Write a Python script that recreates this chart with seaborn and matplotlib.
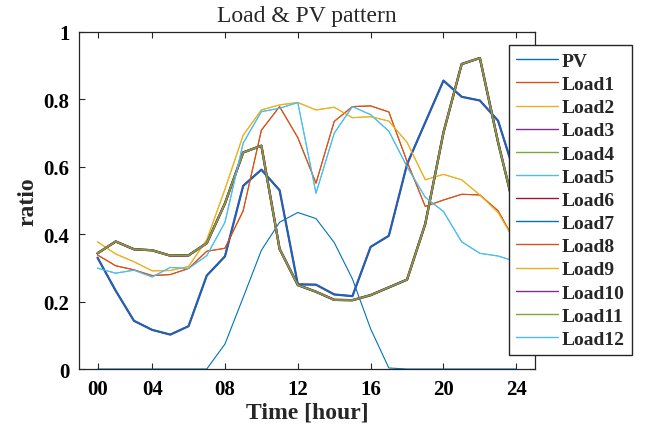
import matplotlib
matplotlib.use("Agg")
import matplotlib.pyplot as plt
import seaborn as sns
import pandas as pd

# ---------------- data ----------------
hours = list(range(24))
tick_pos = [0, 3, 7, 11, 15, 19, 23]
tick_labels = ["00", "04", "08", "12", "16", "20", "24"]
y_ticks = [0, 0.2, 0.4, 0.6, 0.8, 1.0]
y_tick_labels = ["0", "0.2", "0.4", "0.6", "0.8", "1"]

pv = [0, 0, 0, 0, 0, 0, 0, 0.074, 0.212, 0.352, 0.435, 0.464,
      0.446, 0.375, 0.267, 0.119, 0.003, 0, 0, 0, 0, 0, 0, 0]
pattern_a = [0.338, 0.306, 0.294, 0.277, 0.280, 0.298, 0.349, 0.358, 0.469, 0.708, 0.778, 0.686,
             0.551, 0.734, 0.778, 0.780, 0.762, 0.615, 0.482, 0.501, 0.518, 0.516, 0.469, 0.372]
pattern_b = [0.377, 0.341, 0.318, 0.291, 0.292, 0.304, 0.383, 0.533, 0.693, 0.768, 0.783, 0.790,
             0.768, 0.776, 0.745, 0.748, 0.735, 0.672, 0.561, 0.577, 0.561, 0.516, 0.464, 0.372]
pattern_c = [0.330, 0.232, 0.143, 0.116, 0.102, 0.127, 0.277, 0.334, 0.543, 0.591, 0.530, 0.251,
             0.250, 0.221, 0.216, 0.362, 0.395, 0.607, 0.731, 0.855, 0.807, 0.796, 0.736, 0.565]
pattern_d = [0.343, 0.378, 0.355, 0.352, 0.336, 0.337, 0.373, 0.491, 0.642, 0.662, 0.356, 0.249,
             0.229, 0.205, 0.204, 0.219, 0.242, 0.265, 0.430, 0.701, 0.904, 0.922, 0.672, 0.450]
pattern_e = [0.299, 0.284, 0.293, 0.273, 0.301, 0.298, 0.336, 0.435, 0.670, 0.763, 0.773, 0.790,
             0.521, 0.699, 0.778, 0.754, 0.705, 0.600, 0.509, 0.467, 0.377, 0.343, 0.335, 0.318]

series_names = ["PV", "Load1", "Load2", "Load3", "Load4", "Load5", "Load6",
                "Load7", "Load8", "Load9", "Load10", "Load11", "Load12"]
series_values = [pv, pattern_a, pattern_b, pattern_c, pattern_d, pattern_e, pattern_d,
                 pattern_c, pattern_a, pattern_b, pattern_d, pattern_d, pattern_e]

matlab_colors = ["#0072BD", "#D95319", "#EDB120", "#7E2F8E", "#77AC30", "#4DBEEE", "#A2142F"]
series_colors = [matlab_colors[i % 7] for i in range(13)]
# lines that are later covered by an identical curve look wider in the reference
series_widths = [0.8, 0.8, 0.8, 1.6, 1.6, 0.8, 1.6, 1.1, 0.8, 0.8, 1.6, 1.1, 0.8]

# ---------------- style ----------------
sns.set_theme(style="ticks")
plt.rcParams["font.family"] = ["Liberation Serif", "DejaVu Serif"]
plt.rcParams["axes.edgecolor"] = "#262626"
plt.rcParams["axes.linewidth"] = 0.9

fig = plt.figure(figsize=(6.47, 4.39), dpi=100)
ax = fig.add_axes([79.3 / 647, 1 - 370 / 439, (534.5 - 79.3) / 647, (370 - 32.7) / 439])

for name, vals, col, lw in zip(series_names, series_values, series_colors, series_widths):
    df = pd.DataFrame({"hour": hours, "ratio": vals})
    sns.lineplot(data=df, x="hour", y="ratio", color=col, linewidth=lw, label=name, ax=ax)

ax.set_xlim(-1, 24)
ax.set_ylim(0, 1)
ax.set_xticks(tick_pos)
ax.set_xticklabels(tick_labels)
ax.set_yticks(y_ticks)
ax.set_yticklabels(y_tick_labels)
for lab in ax.get_xticklabels() + ax.get_yticklabels():
    lab.set_fontweight("bold")
    lab.set_fontsize(15)
ax.tick_params(direction="in", length=4, width=0.8, top=True, right=True,
               colors="#262626", labelcolor="black", pad=7)
for s in ax.spines.values():
    s.set_visible(True)
    s.set_color("#262626")

ax.set_xlabel("Time [hour]", fontsize=17, fontweight="bold", labelpad=2)
ax.set_ylabel("ratio", fontsize=17, fontweight="bold", labelpad=4)
ax.set_title("Load & PV pattern", fontsize=17, pad=8)

leg = ax.legend(loc="upper left", bbox_to_anchor=(509 / 647, 1 - 46 / 439),
                bbox_transform=fig.transFigure, borderaxespad=0, frameon=True,
                fancybox=False, framealpha=1, edgecolor="#262626",
                prop={"weight": "bold", "size": 14}, handlelength=2.15,
                handletextpad=0.2, labelspacing=0.285, borderpad=0.38)
leg.get_frame().set_linewidth(1.0)
for h in leg.get_lines():
    h.set_linewidth(1.0)

fig.savefig("out.png", dpi=100)
